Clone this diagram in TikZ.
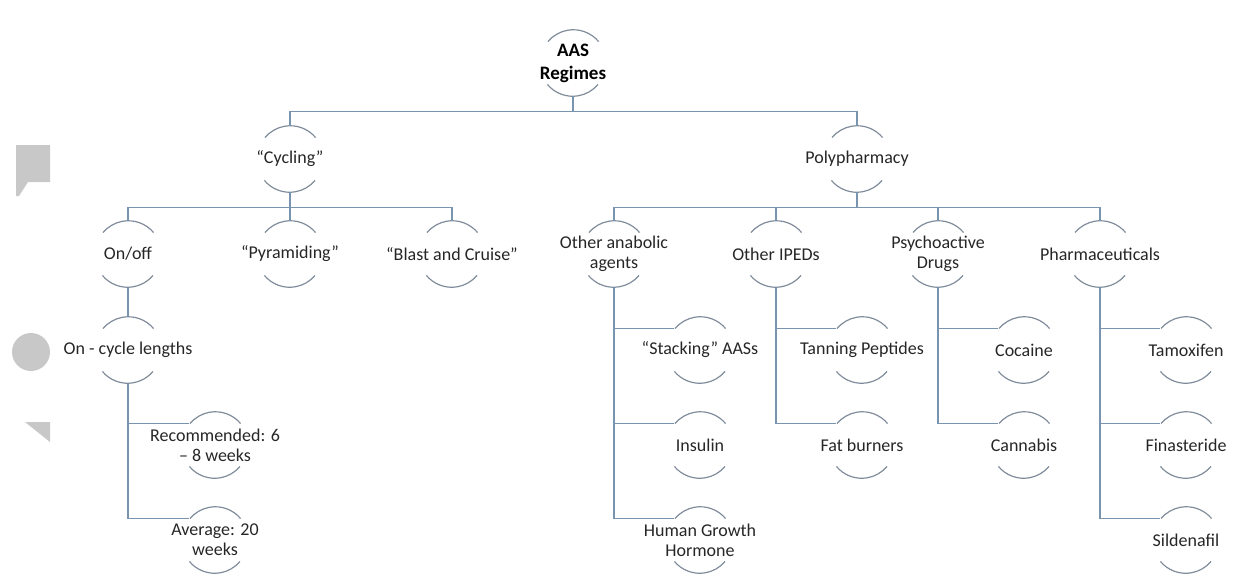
\documentclass[tikz,border=0pt]{standalone}
\usepackage{fontspec}
\setmainfont{Carlito}
\usetikzlibrary{calc}
\definecolor{connc}{RGB}{120,148,175}
\definecolor{arcc}{RGB}{128,140,155}
\definecolor{artc}{RGB}{200,200,200}
\tikzset{
 circ/.style={circle,minimum size=33pt,inner sep=0pt,draw=none},
 txt/.style={font=\fontsize{9}{10}\selectfont,align=center,inner sep=0pt,text=black!85},
 roottxt/.style={font=\bfseries\fontsize{9.5}{11.5}\selectfont,align=center,inner sep=0pt},
 conn/.style={draw=connc,line width=0.65pt},
 arcst/.style={draw=arcc,line width=0.6pt},
}
\newcommand\cnode[5][txt]{\node[circ] (#2) at (#3,#4) {};\node[#1] (#2t) at (#2) {#5};}
\begin{document}
\begin{tikzpicture}[x=0.5pt,y=-0.5pt]
\useasboundingbox (0,0) rectangle (1240,585);
% background artifacts
\fill[artc] (16,145) -- (50,145) -- (50,182) -- (28,182) -- (19,196) -- (16,196) -- cycle;
\fill[artc] (31,352) circle[radius=9.5pt];
\fill[artc] (25,422) -- (50,422) -- (50,442) -- cycle;
% nodes
\cnode[roottxt]{root}{573}{63}{AAS\\Regimes}
\cnode{cyc}{290}{159}{“Cycling”}
\cnode{poly}{857}{159}{Polypharmacy}
\cnode{onoff}{128}{254}{On/off}
\cnode{pyr}{290}{254}{“Pyramiding”}
\cnode{blast}{452}{254}{“Blast and Cruise”}
\cnode{oaa}{614}{254}{Other anabolic\\agents}
\cnode{ipeds}{776}{254}{Other IPEDs}
\cnode{psy}{938}{254}{Psychoactive\\Drugs}
\cnode{pharm}{1100}{254}{Pharmaceuticals}
\cnode{oncyc}{128}{350}{On - cycle lengths}
\cnode{rec}{215}{445}{Recommended: 6\\– 8 weeks}
\cnode{avg}{215}{540}{Average: 20\\weeks}
\cnode{stack}{700}{350}{“Stacking” AASs}
\cnode{insu}{700}{445}{Insulin}
\cnode{hgh}{700}{540}{Human Growth\\Hormone}
\cnode{tan}{862}{350}{Tanning Peptides}
\cnode{fat}{862}{445}{Fat burners}
\cnode{coc}{1024}{350}{Cocaine}
\cnode{can}{1024}{445}{Cannabis}
\cnode{tam}{1186}{350}{Tamoxifen}
\cnode{fin}{1186}{445}{Finasteride}
\cnode{sil}{1186}{540}{Sildenafil}
% arcs
\foreach \n in {root,cyc,poly,onoff,pyr,blast,oaa,ipeds,psy,pharm,oncyc,rec,avg,stack,insu,hgh,tan,fat,coc,can,tam,fin,sil}{
  \draw[arcst] (\n.40) arc[start angle=40,end angle=140,radius=16.5pt];
  \draw[arcst] (\n.220) arc[start angle=220,end angle=320,radius=16.5pt];
}
% connectors
\foreach \c in {cyc,poly}{\draw[conn] (root.south) -- ++(0,-7.5pt) -| (\c.north);}
\foreach \c in {onoff,pyr,blast}{\draw[conn] (cyc.south) -- ++(0,-7.5pt) -| (\c.north);}
\foreach \c in {oaa,ipeds,psy,pharm}{\draw[conn] (poly.south) -- ++(0,-7.5pt) -| (\c.north);}
\draw[conn] (onoff.south) -- (oncyc.north);
\foreach \c in {rec,avg}{\draw[conn] (oncyc.south) |- (\c.140);}
\foreach \c in {stack,insu,hgh}{\draw[conn] (oaa.south) |- (\c.140);}
\foreach \c in {tan,fat}{\draw[conn] (ipeds.south) |- (\c.140);}
\foreach \c in {coc,can}{\draw[conn] (psy.south) |- (\c.140);}
\foreach \c in {tam,fin,sil}{\draw[conn] (pharm.south) |- (\c.140);}
\end{tikzpicture}
\end{document}
